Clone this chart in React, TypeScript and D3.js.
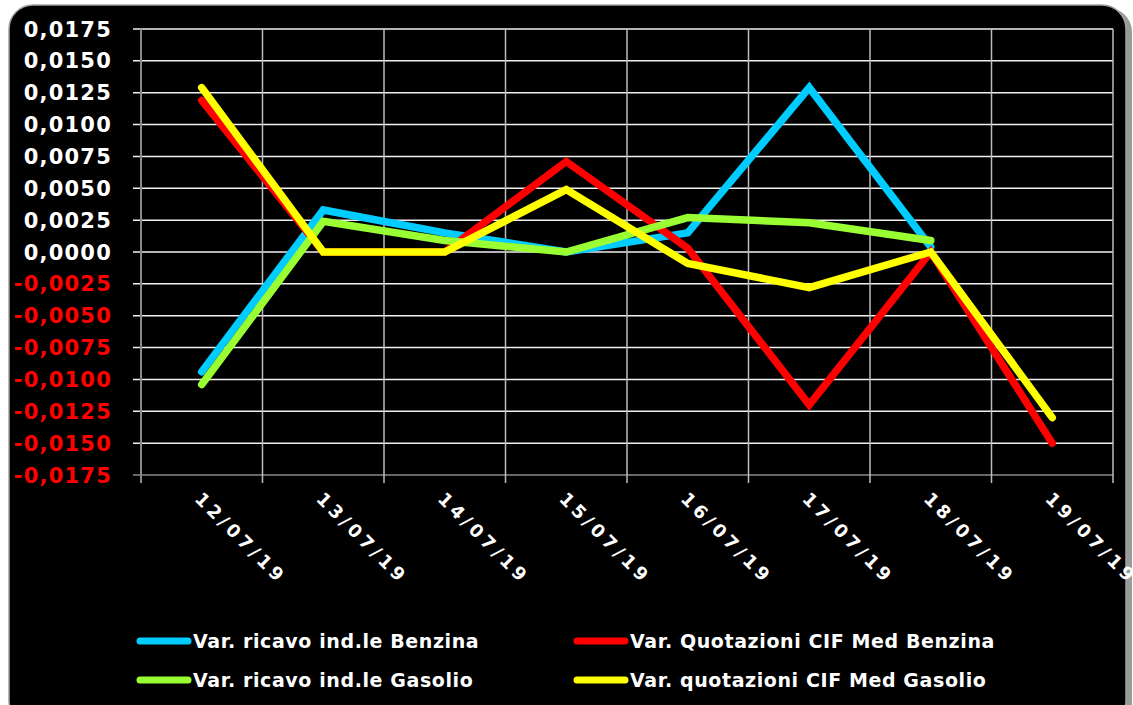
import React from "react";
import * as d3 from "d3";

const categories = ["12/07/19", "13/07/19", "14/07/19", "15/07/19", "16/07/19", "17/07/19", "18/07/19", "19/07/19"];
const ricavoBenzina = [-0.0094, 0.0033, 0.0015, 0.0, 0.0015, 0.0129, 0.0004, null];
const quotBenzina = [0.0119, 0.0, 0.0, 0.0071, 0.0003, -0.0120, 0.0, -0.0150];
const ricavoGasolio = [-0.0104, 0.0024, 0.0009, 0.0, 0.0027, 0.0023, 0.0009, null];
const quotGasolio = [0.0129, 0.0, 0.0, 0.0049, -0.0009, -0.0028, 0.0, -0.0130];
const yTicks = [0.0175, 0.015, 0.0125, 0.01, 0.0075, 0.005, 0.0025, 0, -0.0025, -0.005, -0.0075, -0.01, -0.0125, -0.015, -0.0175];

const seriesList = [
  { name: "Var. ricavo ind.le Benzina", values: ricavoBenzina, color: "#00ccff" },
  { name: "Var. ricavo ind.le Gasolio", values: ricavoGasolio, color: "#99ff33" },
  { name: "Var. Quotazioni CIF Med Benzina", values: quotBenzina, color: "#ff0000" },
  { name: "Var. quotazioni CIF Med Gasolio", values: quotGasolio, color: "#ffff00" },
];
const drawOrder = [0, 2, 1, 3];
const legendPos = [
  { x: 140, y: 641 },
  { x: 140, y: 680 },
  { x: 577, y: 641 },
  { x: 577, y: 680 },
];

const locale = d3.formatLocale({ decimal: ",", thousands: ".", grouping: [3], currency: ["", "€"], minus: "-" });
const fmt = locale.format(".4f");

export default function App() {
  const W = 1133, H = 705;
  const left = 141, right = 1113, top = 29, bottom = 475;
  const x = d3.scaleBand<string>().domain(categories).range([left, right]).padding(0);
  const y = d3.scaleLinear().domain([-0.0175, 0.0175]).range([bottom, top]);
  const cx = (c: string) => (x(c) as number) + x.bandwidth() / 2;
  const font = "'DejaVu Sans', Verdana, sans-serif";

  const line = d3
    .line<number | null>()
    .defined((d) => d !== null)
    .x((_, i) => cx(categories[i]))
    .y((d) => y(d as number));

  const boundaries = categories.map((c) => x(c) as number).concat([right]);

  return (
    <svg width={W} height={H} style={{ position: "absolute", left: 0, top: 0, display: "block" }}>
      <rect x={0} y={0} width={W} height={H} fill="#ffffff" />
      <rect x={12} y={8} width={1120} height={720} rx={24} fill="#9a9a9a" />
      <rect x={9} y={5} width={1117} height={720} rx={24} fill="#000000" stroke="#a0a0a0" strokeWidth={1.5} />

      {/* horizontal gridlines */}
      {yTicks.map((t) => (
        <line key={"h" + t} x1={133} x2={right} y1={y(t)} y2={y(t)}
          stroke={t === -0.0175 ? "#8a8a8a" : "#f0f0f0"} strokeWidth={1.5} />
      ))}
      {/* vertical gridlines */}
      {boundaries.map((b, i) => (
        <line key={"v" + i} x1={b} x2={b} y1={top} y2={bottom + 8}
          stroke={i === 0 ? "#8a8a8a" : "#bdbdbd"} strokeWidth={i === 0 ? 2 : 1.5} />
      ))}

      {/* y labels */}
      {yTicks.map((t) => (
        <text key={"yl" + t} x={112} y={y(t)} dy="0.36em" textAnchor="end"
          fill={t < 0 ? "#ff0000" : "#ffffff"} fontFamily={font} fontWeight="bold"
          fontSize={21} letterSpacing={1.2}>
          {fmt(t)}
        </text>
      ))}

      {/* x labels */}
      {categories.map((c) => (
        <text key={"xl" + c} transform={`translate(${cx(c) - 8},${500}) rotate(45)`}
          fill="#ffffff" fontFamily={font} fontWeight="bold" fontSize={18} letterSpacing={4}>
          {c}
        </text>
      ))}

      {/* series */}
      {drawOrder.map((si) => {
        const s = seriesList[si];
        return (
          <path key={"s" + si} d={line(s.values) || ""} fill="none" stroke={s.color}
            strokeWidth={7.5} strokeLinejoin="miter" strokeLinecap="round" />
        );
      })}

      {/* legend */}
      {seriesList.map((s, i) => {
        const p = legendPos[i];
        return (
          <g key={"lg" + i}>
            <line x1={p.x} x2={p.x + 48} y1={p.y} y2={p.y} stroke={s.color} strokeWidth={7} strokeLinecap="round" />
            <text x={p.x + 53} y={p.y} dy="0.36em" fill="#ffffff" fontFamily={font}
              fontWeight="bold" fontSize={19} letterSpacing={0.6}>
              {s.name}
            </text>
          </g>
        );
      })}
    </svg>
  );
}
